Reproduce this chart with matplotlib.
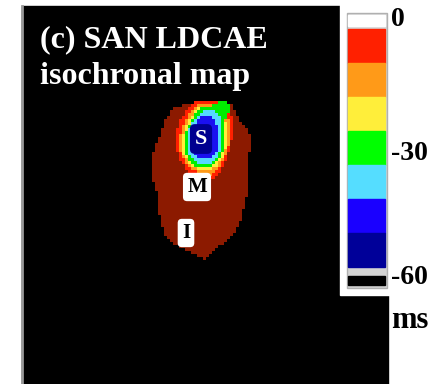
import matplotlib
matplotlib.use("Agg")
import matplotlib.pyplot as plt
import numpy as np
from matplotlib.path import Path
from matplotlib.colors import ListedColormap
from matplotlib.patches import Rectangle

# Isochrone outlines (image pixel coords), outer -> inner
tissue_x = [178, 195, 222, 232, 237, 242, 247, 251, 251, 249, 249, 246, 243, 240, 235, 228,
            220, 212, 206, 200, 192, 182, 172, 165, 162, 158, 157, 152, 151, 153, 157, 160, 165, 172]
tissue_y = [106, 103, 102, 104, 114, 125, 130, 138, 146, 152, 185, 200, 210, 223, 231, 238,
            246, 253, 259, 258, 253, 248, 243, 235, 225, 208, 192, 178, 160, 152, 143, 135, 120, 110]

red_x = [197, 216, 228, 232, 232, 229, 225, 220, 212, 201, 191, 184, 179, 176, 176, 180, 188]
red_y = [101, 101, 106, 118, 138, 150, 162, 172, 179, 179, 173, 166, 158, 148, 133, 120, 108]

orange_x = [199, 215, 224, 229, 229, 225, 220, 211, 202, 193, 186, 180, 180, 184, 191]
orange_y = [104, 104, 111, 121, 145, 157, 167, 175, 175, 169, 162, 151, 136, 123, 112]

yellow_x = [201, 216, 223, 226, 226, 222, 215, 205, 195, 188, 183, 183, 186, 193]
yellow_y = [106, 106, 113, 124, 148, 159, 168, 171, 168, 162, 153, 137, 126, 114]

green_x = [203, 215, 222, 229, 231, 226, 224, 224, 220, 213, 205, 196, 189, 185, 185, 188, 195]
green_y = [107, 105, 101, 103, 110, 115, 125, 146, 158, 166, 168, 166, 160, 153, 138, 127, 115]

cyan_x = [205, 215, 220, 222, 222, 218, 212, 204, 197, 191, 188, 188, 190, 196]
cyan_y = [110, 110, 116, 127, 146, 156, 162, 165, 163, 158, 152, 137, 127, 118]

blue_x = [202, 211, 216, 218, 218, 214, 207, 199, 194, 191, 191, 196]
blue_y = [117, 117, 122, 131, 148, 155, 159, 159, 155, 150, 132, 123]

levels = [(tissue_x, tissue_y), (red_x, red_y), (orange_x, orange_y), (yellow_x, yellow_y),
          (green_x, green_y), (cyan_x, cyan_y), (blue_x, blue_y)]
map_colors = ["#8c1a00", "#ff2000", "#ff9a18", "#ffee3a", "#00ee00", "#55d8ff", "#1a10f0"]

cbar_colors = ["#ff2000", "#ff9a18", "#ffee3a", "#00ff00", "#55ddff", "#1a00ff", "#000099"]
cbar_ticks = [0, -30, -60]

# rasterise the outlines onto a coarse grid so it looks like the pixel map
cell = 3
gx = np.arange(146, 256, cell)
gy = np.arange(98, 264, cell)
cx, cy = np.meshgrid(gx + cell / 2, gy + cell / 2)
pts = np.column_stack([cx.ravel(), cy.ravel()])
idx = np.full(cx.size, -1)
for k, (px, py) in enumerate(levels):
    inside = Path(np.column_stack([px, py])).contains_points(pts)
    idx[inside] = k
idx = np.ma.masked_less(idx.reshape(cx.shape), 0)

fig = plt.figure(figsize=(4.47, 3.84), dpi=100)
ax = fig.add_axes([0, 0, 1, 1])
ax.set_xlim(0, 447)
ax.set_ylim(384, 0)
ax.axis("off")

# black image panel with a grey left rim
ax.add_patch(Rectangle((22, 6), 366, 380, color="black", zorder=0))
ax.plot([21.5, 21.5], [6, 384], color="#999999", lw=2, zorder=1)

ax.imshow(idx, cmap=ListedColormap(map_colors), vmin=-0.5, vmax=len(map_colors) - 0.5,
          extent=(gx[0], gx[-1] + cell, gy[-1] + cell, gy[0]), interpolation="nearest", zorder=2)
ax.set_aspect("auto")

ax.text(40, 47, "(c) SAN LDCAE", color="white", fontsize=23, fontweight="bold",
        family="Liberation Serif", va="baseline")
ax.text(40, 84, "isochronal map", color="white", fontsize=23, fontweight="bold",
        family="Liberation Serif", va="baseline")

# site labels
ax.text(201, 139, "S", color="white", fontsize=16, fontweight="bold", family="Liberation Serif",
        ha="center", va="center", zorder=4,
        bbox=dict(boxstyle="round,pad=0.22", fc="#000090", ec="none"))
for lab, lx, ly in [("M", 197, 187), ("I", 186, 233)]:
    ax.text(lx, ly, lab, color="black", fontsize=15, fontweight="bold", family="Liberation Serif",
            ha="center", va="center", zorder=4,
            bbox=dict(boxstyle="round,pad=0.2", fc="white", ec="none"))

# colour bar panel
ax.add_patch(Rectangle((340, 0), 107, 295, color="white", zorder=3))
bx, bw = 348, 37
band_top, band_h = 29, 34
ax.add_patch(Rectangle((bx - 1.5, 12.5), bw + 3, 275, fc="#d4d4d4", ec="#b0b0b0", lw=1, zorder=3))
ax.add_patch(Rectangle((bx, 14.5), bw, 11, color="white", zorder=4))
for i, c in enumerate(cbar_colors):
    ax.add_patch(Rectangle((bx, band_top + i * band_h), bw, band_h, color=c, zorder=4))
ax.add_patch(Rectangle((bx, 276), bw, 9, color="black", zorder=4))

tick_y = {0: 20, -30: 153, -60: 278}
for t in cbar_ticks:
    ax.text(391, tick_y[t], str(t), color="black", fontsize=20, fontweight="bold",
            family="Liberation Serif", ha="left", va="center", zorder=5)
ax.text(391, 321, "ms", color="black", fontsize=22, fontweight="bold",
        family="Liberation Serif", ha="left", va="center", zorder=5)

fig.savefig("out.png", dpi=100)
